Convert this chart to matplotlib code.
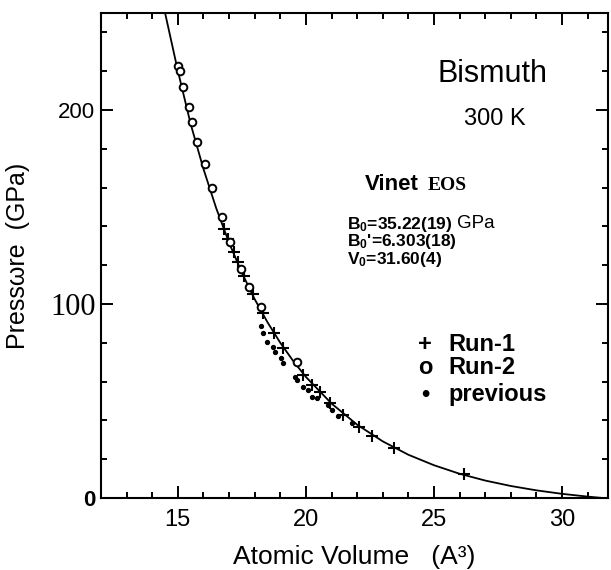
import matplotlib
matplotlib.use('Agg')
import matplotlib.pyplot as plt
from matplotlib.ticker import MultipleLocator

plt.rcParams['font.family'] = ['Liberation Sans', 'DejaVu Sans']
plt.rcParams['mathtext.fontset'] = 'custom'
plt.rcParams['mathtext.rm'] = 'Liberation Sans'
plt.rcParams['mathtext.bf'] = 'Liberation Sans:bold'
plt.rcParams['mathtext.it'] = 'Liberation Sans:italic'

# Vinet EOS fit line (volume in A^3, pressure in GPa)
curve_v = [14.5, 15.0, 15.5, 16.0, 16.5, 17.0, 17.5, 18.0, 18.5, 19.0, 19.5, 20.0,
           21.0, 22.0, 23.0, 24.0, 25.0, 26.0, 27.0, 28.0, 29.0, 30.0, 31.0, 31.6]
curve_p = [250.1, 220.2, 192.8, 169.6, 149.3, 131.6, 116.1, 102.5, 90.6, 80.0, 70.7, 62.4,
           48.7, 37.8, 29.2, 22.3, 16.9, 12.5, 9.0, 6.2, 3.95, 2.15, 0.72, 0.0]

# Run-1 (+)
run1_v = [16.79, 16.95, 17.18, 17.33, 17.57, 17.92, 18.31, 18.74, 19.12, 19.90,
          20.25, 20.56, 20.95, 21.46, 22.08, 22.59, 23.44, 26.17]
run1_p = [138.5, 133.3, 126.6, 121.4, 114.2, 104.9, 95.6, 85.3, 77.5, 63.6,
          58.4, 54.8, 49.1, 42.9, 36.7, 32.0, 25.8, 12.4]

# Run-2 (o)
run2_v = [15.00, 15.08, 15.19, 15.43, 15.54, 15.74, 16.05, 16.32, 16.71, 17.02,
          17.45, 17.76, 18.23, 19.67]
run2_p = [222.7, 220.2, 211.9, 201.6, 193.8, 183.5, 172.1, 159.7, 144.7, 131.8,
          117.8, 109.0, 98.2, 70.3]

# previous data (dots)
prev_v = [18.23, 18.31, 18.50, 18.70, 18.81, 19.01, 19.12, 19.59, 19.67, 19.90,
          20.10, 20.25, 20.45, 20.88, 21.03, 21.26, 21.81]
prev_p = [88.4, 85.3, 80.6, 78.0, 75.5, 72.4, 69.8, 62.5, 61.0, 57.4,
          55.8, 52.2, 51.7, 48.1, 45.5, 42.4, 38.8]

fig = plt.figure(figsize=(6.11, 5.70), dpi=100)
ax = fig.add_axes([0.1653, 0.1263, 0.830, 0.851])

ax.plot(curve_v, curve_p, color='black', lw=1.3)
ax.plot(run1_v, run1_p, ls='none', marker='+', ms=8, mew=1.5, color='black')
ax.plot(run2_v, run2_p, ls='none', marker='o', ms=5.5, mew=1.4, mfc='white', mec='black')
ax.plot(prev_v, prev_p, ls='none', marker='o', ms=2.8, color='black')

ax.set_xlim(12.0, 31.8)
ax.set_ylim(0, 250)

ax.xaxis.set_major_locator(MultipleLocator(5))
ax.xaxis.set_minor_locator(MultipleLocator(1))
ax.yaxis.set_major_locator(MultipleLocator(100))
ax.yaxis.set_minor_locator(MultipleLocator(20))
ax.tick_params(which='both', direction='in', top=True, right=True, width=1.4)
ax.tick_params(which='major', length=8.5)
ax.tick_params(which='minor', length=4.3)
ax.tick_params(axis='x', labelsize=17, pad=8)
ax.tick_params(axis='y', labelsize=16, pad=4)
for s in ax.spines.values():
    s.set_linewidth(1.5)

ax.set_yticks([0, 100, 200])
ax.set_yticklabels(['0', '100', '200'])
ylabs = ax.get_yticklabels()
ylabs[0].set_fontweight('bold')
ylabs[1].set_fontfamily('Liberation Serif')
ylabs[1].set_fontsize(22)
ylabs[2].set_fontsize(16)

ax.set_xlabel('Atomic Volume   (A³)', fontsize=19, labelpad=10)
ax.set_ylabel('Pressωre  (GPa)', fontsize=18, labelpad=14)

ax.text(27.3, 218.6, 'Bismuth', fontsize=22, ha='center', va='center')
ax.text(27.37, 195.3, '300 K', fontsize=17, ha='center', va='center')

ax.text(22.32, 158.5, 'Vinet', fontsize=16, fontweight='bold', ha='left', va='baseline')
ax.text(24.75, 158.5, 'EOS', fontsize=14, fontweight='bold', family='Liberation Serif',
        ha='left', va='baseline')

b0 = ax.text(21.61, 141.0, r'B$_\mathbf{0}$=35.22(19)', fontsize=12.5, fontweight='bold',
             ha='left', va='center')
ax.annotate('GPa', xy=(1, 0.55), xycoords=b0, xytext=(3, 0), textcoords='offset points',
            fontsize=13.5, ha='left', va='center')
ax.text(21.61, 132.0, r"B$_\mathbf{0}$'=6.303(18)", fontsize=12.5, fontweight='bold',
        ha='left', va='center')
ax.text(21.61, 123.0, r'V$_\mathbf{0}$=31.60(4)', fontsize=12.5, fontweight='bold',
        ha='left', va='center')

legend_labels = ['Run-1', 'Run-2', 'previous']
legend_marks = ['+', 'o', '•']
legend_p = [79.1, 67.2, 53.2]
for mk, lab, yy in zip(legend_marks, legend_labels, legend_p):
    ax.text(24.65, yy, mk, fontsize=17, fontweight='bold', ha='center', va='center')
    ax.text(25.58, yy, lab, fontsize=17, fontweight='bold', ha='left', va='center')

fig.savefig('out.png', dpi=100)
